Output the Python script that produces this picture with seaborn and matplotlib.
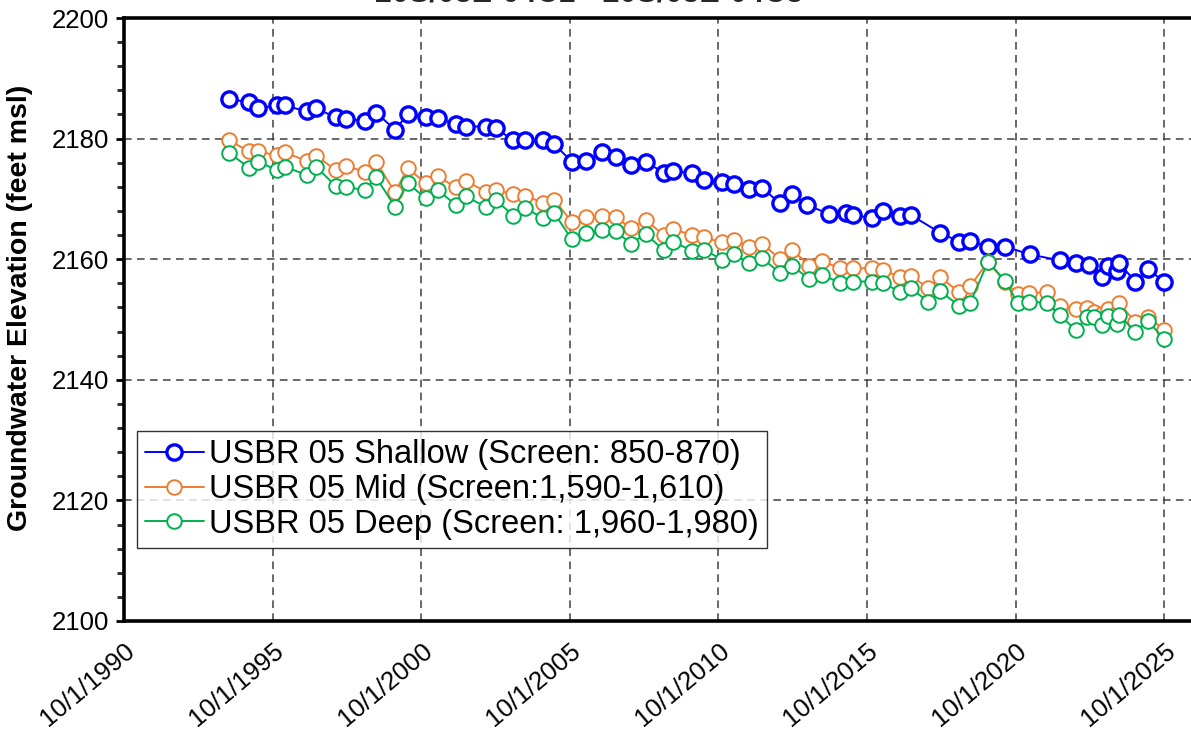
import matplotlib
matplotlib.use("Agg")
import matplotlib.pyplot as plt
import matplotlib.dates as mdates
from matplotlib.ticker import MultipleLocator, FixedLocator, FuncFormatter
import seaborn as sns
import pandas as pd

# values
shallow_dates = [
    "1994-04-14", "1994-12-15", "1995-04-01", "1995-11-20", "1996-03-01", "1996-11-21",
    "1997-03-20", "1997-11-18", "1998-03-25", "1998-11-13", "1999-03-25", "1999-11-13",
    "2000-04-17", "2000-11-25", "2001-04-21", "2001-11-28", "2002-04-01", "2002-12-01",
    "2003-04-08", "2003-11-06", "2004-04-02", "2004-11-02", "2005-03-20", "2005-10-24",
    "2006-04-17", "2006-11-04", "2007-04-17", "2007-10-23", "2008-04-20", "2008-11-27",
    "2009-03-26", "2009-11-07", "2010-04-10", "2010-11-10", "2011-04-10", "2011-10-16",
    "2012-03-17", "2012-10-28", "2013-03-24", "2013-09-21", "2014-06-21", "2015-01-13",
    "2015-04-06", "2015-11-25", "2016-04-19", "2016-11-10", "2017-03-25", "2018-03-16",
    "2018-11-05", "2019-03-20", "2019-10-27", "2020-05-24", "2021-03-20", "2022-03-29",
    "2022-10-13", "2023-03-24", "2023-08-25", "2023-11-06", "2024-02-24", "2024-03-24",
    "2024-10-07", "2025-03-16", "2025-09-28",
]
shallow = [
    2186.5, 2186.1, 2185.0, 2185.5, 2185.5, 2184.5, 2185.0, 2183.5, 2183.3, 2182.9,
    2184.3, 2181.5, 2184.0, 2183.5, 2183.4, 2182.4, 2182.0, 2182.0, 2181.7, 2179.7,
    2179.7, 2179.7, 2179.1, 2176.2, 2176.3, 2177.7, 2177.0, 2175.7, 2176.2, 2174.3,
    2174.6, 2174.3, 2173.2, 2172.8, 2172.5, 2171.6, 2171.8, 2169.3, 2170.8, 2169.0,
    2167.5, 2167.6, 2167.4, 2166.8, 2168.0, 2167.2, 2167.3, 2164.4, 2162.9, 2163.1,
    2162.0, 2162.1, 2160.8, 2159.8, 2159.3, 2159.0, 2157.0, 2158.9, 2158.1, 2159.4,
    2156.3, 2158.3, 2156.3,
]

deep_dates = [
    "1994-04-14", "1994-12-15", "1995-04-01", "1995-11-20", "1996-03-01", "1996-11-21",
    "1997-03-20", "1997-11-18", "1998-03-25", "1998-11-13", "1999-03-25", "1999-11-13",
    "2000-04-17", "2000-11-25", "2001-04-21", "2001-11-28", "2002-04-01", "2002-12-01",
    "2003-04-08", "2003-11-06", "2004-04-02", "2004-11-02", "2005-03-20", "2005-10-24",
    "2006-04-17", "2006-11-04", "2007-04-17", "2007-10-23", "2008-04-20", "2008-11-27",
    "2009-03-26", "2009-11-07", "2010-04-10", "2010-11-10", "2011-04-10", "2011-10-16",
    "2012-03-17", "2012-10-28", "2013-03-24", "2013-10-23", "2014-03-24", "2014-11-03",
    "2015-04-06", "2015-11-25", "2016-04-19", "2016-11-10", "2017-03-25", "2017-10-24",
    "2018-03-16", "2018-11-05", "2019-03-20", "2019-10-27", "2020-05-24", "2020-10-27",
    "2021-03-14", "2021-10-18", "2022-03-29", "2022-10-13", "2023-02-24", "2023-05-16",
    "2023-08-25", "2023-11-06", "2024-02-24", "2024-03-24", "2024-10-07", "2025-03-16",
    "2025-09-28",
]
mid = [
    2179.7, 2177.9, 2177.9, 2177.2, 2177.7, 2176.3, 2177.1, 2174.8, 2175.4, 2174.5,
    2176.2, 2171.1, 2175.1, 2172.6, 2173.8, 2171.9, 2173.0, 2171.2, 2171.4, 2170.8,
    2170.5, 2169.4, 2169.9, 2166.2, 2167.0, 2167.2, 2167.0, 2165.1, 2166.5, 2164.0,
    2165.0, 2164.0, 2163.6, 2162.8, 2163.2, 2162.0, 2162.6, 2160.0, 2161.6, 2158.9,
    2159.7, 2158.5, 2158.5, 2158.5, 2158.2, 2157.0, 2157.2, 2155.2, 2157.0, 2154.6,
    2155.5, 2159.6, 2156.2, 2154.2, 2154.4, 2154.5, 2152.2, 2151.7, 2151.9, 2151.2,
    2150.9, 2151.7, 2151.1, 2152.7, 2149.6, 2150.4, 2148.3,
]
deep = [
    2177.6, 2175.2, 2176.2, 2174.8, 2175.3, 2174.0, 2175.3, 2172.1, 2171.9, 2171.5,
    2173.6, 2168.7, 2172.6, 2170.1, 2171.5, 2169.0, 2170.4, 2168.7, 2169.8, 2167.2,
    2168.5, 2166.8, 2167.7, 2163.3, 2164.3, 2164.8, 2164.6, 2162.6, 2164.2, 2161.5,
    2162.9, 2161.4, 2161.6, 2159.9, 2160.9, 2159.3, 2160.2, 2157.7, 2158.9, 2156.7,
    2157.4, 2156.1, 2156.3, 2156.3, 2156.0, 2154.6, 2155.2, 2152.9, 2154.7, 2152.3,
    2152.7, 2159.6, 2156.4, 2152.7, 2152.9, 2152.8, 2150.7, 2148.2, 2150.4, 2150.4,
    2149.1, 2150.5, 2149.3, 2150.8, 2148.0, 2149.8, 2146.7,
]

labels = [
    "USBR 05 Shallow (Screen: 850-870)",
    "USBR 05 Mid (Screen:1,590-1,610)",
    "USBR 05 Deep (Screen: 1,960-1,980)",
]
colors = ["#0000FF", "#ED7D31", "#00B050"]
tick_years = [1990, 1995, 2000, 2005, 2010, 2015, 2020, 2025]

sns.set_theme(style="white")
plt.rcParams["font.family"] = ["Liberation Sans", "DejaVu Sans"]

fig = plt.figure(figsize=(11.91, 7.34), dpi=100)
ax = fig.add_axes([124 / 1191, 1 - 621 / 734, 1 - 124 / 1191, (621 - 18) / 734])

series = [
    (shallow_dates, shallow, 2.4, 11),
    (deep_dates, mid, 1.4, 10.5),
    (deep_dates, deep, 1.4, 10.5),
]
for (dates, vals, mew, ms), lab, col in zip(series, labels, colors):
    df = pd.DataFrame({"date": pd.to_datetime(dates), "elev": vals})
    sns.lineplot(data=df, x="date", y="elev", ax=ax, color=col, label=lab,
                 estimator=None, linewidth=1.4, marker="o", markersize=ms,
                 markerfacecolor="white", markeredgecolor=col, markeredgewidth=mew)

ax.set_xlim(pd.Timestamp("1990-10-01"), pd.Timestamp("2026-08-25"))
ax.set_ylim(2100, 2200)

ticks = [mdates.date2num(pd.Timestamp(f"{y}-10-01")) for y in tick_years]
ax.xaxis.set_major_locator(FixedLocator(ticks))
ax.xaxis.set_major_formatter(FuncFormatter(
    lambda v, p: "{d.month}/{d.day}/{d.year}".format(d=mdates.num2date(v))))
ax.yaxis.set_major_locator(MultipleLocator(20))
ax.yaxis.set_minor_locator(MultipleLocator(4))

ax.grid(True, which="major", linestyle=(0, (5, 3.5)), color="#404040", linewidth=1.1)
ax.set_axisbelow(True)

for side in ["left", "bottom", "top"]:
    ax.spines[side].set_visible(True)
    ax.spines[side].set_color("black")
    ax.spines[side].set_linewidth(2.6)
ax.spines["right"].set_visible(False)

ax.tick_params(axis="y", which="major", direction="out", length=6, width=2,
               left=True, labelsize=18.5, pad=5, colors="black")
ax.tick_params(axis="y", which="minor", direction="out", length=5, width=2, left=True)
ax.tick_params(axis="x", which="major", length=0, labelsize=18.5, pad=13,
               labelcolor="black")
plt.setp(ax.get_xticklabels(), rotation=40, ha="right", rotation_mode="anchor")

ax.set_xlabel("")
ax.set_ylabel("Groundwater Elevation (feet msl)", fontsize=20.5, fontweight="bold",
              color="black")
ax.yaxis.set_label_coords(-0.085, 0.52)

fig.text(589 / 1191, 1 - 1 / 734, "20S/03E-04C1 - 20S/03E-04C3", ha="center",
         va="baseline", fontsize=22, fontweight="bold")

leg = ax.legend(loc="lower left", bbox_to_anchor=(0.012, 0.121), fontsize=23.5,
                frameon=True, fancybox=False, edgecolor="black", handlelength=1.8,
                handletextpad=0.15, borderpad=0.25, labelspacing=0.12,
                borderaxespad=0)
leg.get_frame().set_linewidth(1.0)
for t in leg.get_texts():
    t.set_color("black")

fig.savefig("out.png", dpi=100)
